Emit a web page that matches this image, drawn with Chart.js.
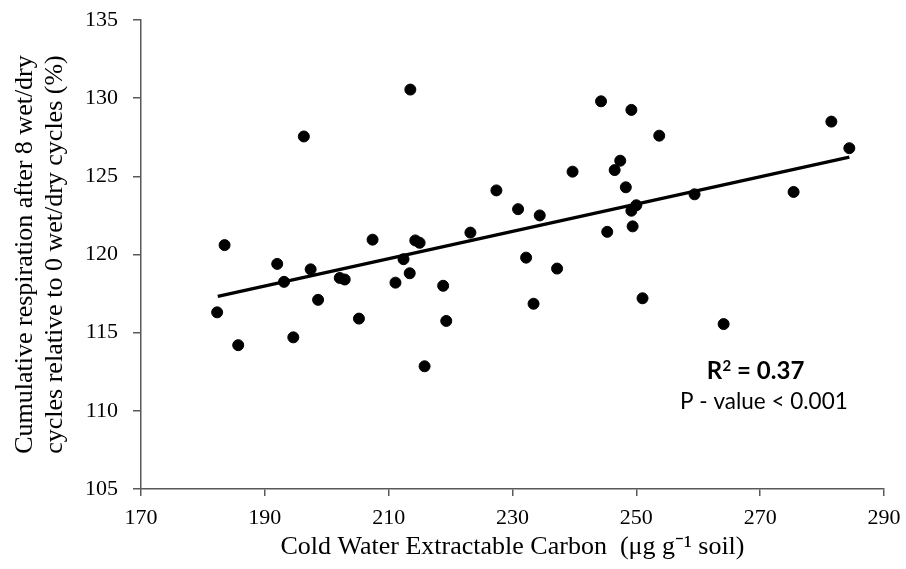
<!DOCTYPE html>
<html>
<head>
<meta charset="utf-8">
<script src="https://cdn.jsdelivr.net/npm/chart.js@4.4.1/dist/chart.umd.min.js"></script>
<style>
  html, body { margin: 0; padding: 0; background: #fff; }
  #wrap { width: 906px; height: 569px; }
</style>
</head>
<body>
<div id="wrap"><canvas id="chart"></canvas></div>
<script>
// cold water extractable carbon (ug/g soil)
const cwec = [182.3, 183.5, 185.7, 192.0, 193.1, 194.6, 196.3, 197.4, 198.6, 202.1,
  202.9, 205.2, 207.4, 211.1, 212.4, 213.4, 213.5, 214.3, 215.0, 215.8,
  218.8, 219.3, 223.2, 227.4, 230.9, 232.2, 233.4, 234.4, 237.2, 239.7,
  244.3, 245.3, 246.5, 247.4, 248.3, 249.2, 249.2, 249.4, 250.0, 251.0,
  253.7, 259.4, 264.1, 275.4, 281.5, 284.4];
// cumulative respiration (%)
const resp = [116.3, 120.6, 114.2, 119.4, 118.25, 114.7, 127.55, 119.05, 117.1, 118.5,
  118.4, 115.9, 120.95, 118.2, 119.7, 118.8, 130.55, 120.9, 120.75, 112.85,
  118.0, 115.75, 121.4, 124.1, 122.9, 119.8, 116.85, 122.5, 119.1, 125.3,
  129.8, 121.45, 125.4, 126.0, 124.3, 129.25, 122.8, 121.8, 123.15, 117.2,
  127.6, 123.85, 115.55, 124.0, 128.5, 126.8];

// linear fit ends
const trendX = [182.4, 284.4];
const trendY = [117.32, 126.23];

const xTicks = [170, 190, 210, 230, 250, 270, 290];
const yTicks = [105, 110, 115, 120, 125, 130, 135];

const r2Text = "0.37";
const pText = "P - value < 0.001";

const pts = cwec.map((v, i) => ({x: v, y: resp[i]}));
const trend = trendX.map((v, i) => ({x: v, y: trendY[i]}));

const serif = "'Liberation Serif', 'Times New Roman', serif";
const axisCol = '#595959';

// stats text in the lower right
const statsPlugin = {
  id: 'stats',
  afterDatasetsDraw(chart) {
    const ctx = chart.ctx;
    const xs = chart.scales.x, ys = chart.scales.y;
    const cx = xs.getPixelForValue(270.6);
    const cxR = xs.getPixelForValue(269.2);
    const y1 = ys.getPixelForValue(112.5);
    const y2 = ys.getPixelForValue(110.55);
    ctx.save();
    ctx.fillStyle = '#000';
    ctx.textBaseline = 'middle';
    // R² line, bold with a raised 2
    const big = "bold 24px Lato, 'Open Sans', sans-serif";
    const small = "bold 15px Lato, 'Open Sans', sans-serif";
    ctx.font = big;
    const wR = ctx.measureText('R').width;
    const wRest = ctx.measureText(' = ' + r2Text).width;
    ctx.font = small;
    const w2 = ctx.measureText('2').width;
    let x = cxR - (wR + w2 + wRest) / 2;
    ctx.textAlign = 'left';
    ctx.font = big;
    ctx.fillText('R', x, y1);
    ctx.font = small;
    ctx.fillText('2', x + wR + 0.5, y1 - 6);
    ctx.font = big;
    ctx.fillText(' = ' + r2Text, x + wR + w2 + 0.5, y1);
    ctx.font = "22.5px Lato, 'Open Sans', sans-serif";
    ctx.textAlign = 'center';
    ctx.fillText(pText, cx, y2);
    ctx.restore();
  }
};

new Chart(document.getElementById('chart'), {
  type: 'scatter',
  data: {
    datasets: [
      {
        data: pts,
        backgroundColor: '#000',
        borderColor: '#000',
        pointRadius: 5.5,
        pointHoverRadius: 5.5,
        order: 1
      },
      {
        type: 'line',
        data: trend,
        borderColor: '#000',
        borderWidth: 3.2,
        pointRadius: 0,
        fill: false,
        order: 2
      }
    ]
  },
  options: {
    responsive: true,
    maintainAspectRatio: false,
    animation: false,
    layout: { padding: { top: 20, right: 22, left: 0, bottom: 0 } },
    plugins: {
      legend: { display: false },
      tooltip: { enabled: false }
    },
    scales: {
      x: {
        type: 'linear',
        min: 170,
        max: 290,
        afterBuildTicks: s => { s.ticks = xTicks.map(v => ({value: v})); },
        // fixed height, and let the layout padding decide the right edge
        afterFit: s => { s.height = 80; s.paddingRight = 0; s.paddingLeft = 0; },
        border: { color: axisCol, width: 1.5 },
        grid: { drawOnChartArea: false, drawTicks: true, tickLength: 7, color: axisCol, lineWidth: 1.5 },
        ticks: { color: '#000', font: { family: serif, size: 22 }, padding: 9, maxRotation: 0 },
        title: {
          display: true,
          text: 'Cold Water Extractable Carbon  (\u03bcg g\u207b\u00b9 soil)',
          color: '#000',
          font: { family: serif, size: 26, lineHeight: 1.2 },
          padding: { top: 0, bottom: 6 }
        }
      },
      y: {
        min: 105,
        max: 135,
        afterBuildTicks: s => { s.ticks = yTicks.map(v => ({value: v})); },
        afterFit: s => { s.width = 141; s.paddingTop = 0; s.paddingBottom = 0; },
        border: { color: axisCol, width: 1.5 },
        grid: { drawOnChartArea: false, drawTicks: true, tickLength: 8, color: axisCol, lineWidth: 1.5 },
        ticks: { color: '#000', font: { family: serif, size: 22 }, padding: 15 },
        title: {
          display: true,
          text: ['Cumulative respiration after 8 wet/dry', 'cycles relative to 0 wet/dry cycles (%)'],
          color: '#000',
          font: { family: serif, size: 26, lineHeight: 1.15 },
          padding: { top: 10, bottom: 0 }
        }
      }
    }
  },
  plugins: [statsPlugin]
});
</script>
</body>
</html>
